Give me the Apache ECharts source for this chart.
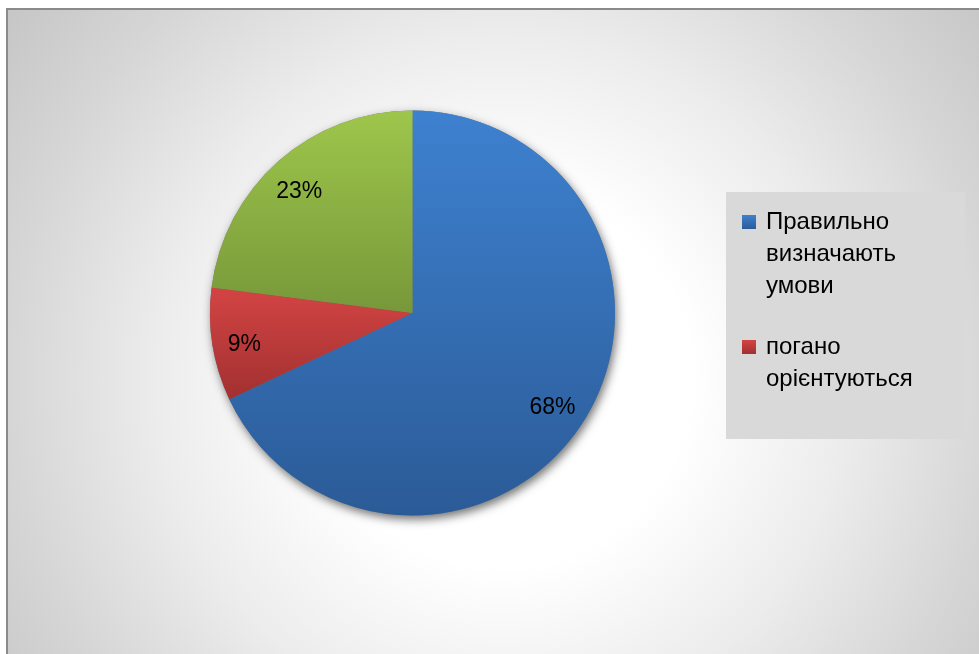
<!DOCTYPE html>
<html>
<head>
<meta charset="utf-8">
<script src="https://cdn.jsdelivr.net/npm/echarts@6/dist/echarts.min.js"></script>
<style>
  html, body { margin: 0; padding: 0; background: #ffffff; }
  #chart { width: 979px; height: 654px; }
</style>
</head>
<body>
<div id="chart"></div>
<script>
// Categories and their shares (percent)
const categories = ['Правильно визначають умови', 'погано орієнтуються', 'частково орієнтуються'];
const shares = [68, 9, 23];
// Only the first two entries fit in the legend box
const legendNames = ['Правильно визначають умови', 'погано орієнтуються'];

// Vertical gradient fills per slice (top colour, bottom colour)
const sliceColors = [
  ['#3e81d0', '#2b5b97'],
  ['#d34444', '#a23030'],
  ['#9ec64b', '#77983a']
];

function vGrad(pair) {
  return {
    type: 'linear', x: 0, y: 0, x2: 0, y2: 1,
    colorStops: [{ offset: 0, color: pair[0] }, { offset: 1, color: pair[1] }]
  };
}

const pieData = categories.map((name, i) => ({
  name: name,
  value: shares[i],
  itemStyle: { color: vGrad(sliceColors[i]) }
}));

const FONT = 'Liberation Sans';
const CENTER = [412.5, 313];
const R = 202.5;

const chart = echarts.init(document.getElementById('chart'), null, { renderer: 'canvas' });

chart.setOption({
  animation: false,
  graphic: [
    {
      // chart area with radial shading and grey frame
      type: 'rect', z: -10, silent: true,
      shape: { x: 7, y: 9, width: 990, height: 740 },
      style: {
        fill: {
          type: 'radial', x: 0.5, y: 0.5, r: 0.85,
          colorStops: [
            { offset: 0, color: '#ffffff' },
            { offset: 0.3, color: '#ffffff' },
            { offset: 0.55, color: '#ececec' },
            { offset: 0.78, color: '#d6d6d6' },
            { offset: 1, color: '#c4c4c4' }
          ]
        },
        stroke: '#8a8a8a', lineWidth: 2
      }
    },
    {
      // legend panel
      type: 'rect', z: -5, silent: true,
      shape: { x: 726, y: 192, width: 239, height: 247 },
      style: { fill: '#d9d9d9' }
    }
  ],
  legend: {
    orient: 'vertical',
    left: 742,
    top: 142,
    padding: 0,
    itemGap: -3,
    itemWidth: 14,
    itemHeight: 14,
    icon: 'rect',
    selectedMode: false,
    data: legendNames,
    // one word per line; leading blank lines keep the marker beside the first line
    formatter: function (name) {
      const words = name.split(' ');
      return '\n'.repeat(words.length - 1) + words.join('\n');
    },
    textStyle: {
      fontFamily: FONT,
      fontSize: 24,
      lineHeight: 32,
      color: '#000000',
      padding: [0, 0, 0, 5]
    }
  },
  series: [
    {
      // visible slices
      name: 'main',
      type: 'pie',
      z: 3,
      center: CENTER,
      radius: R,
      startAngle: 90,
      clockwise: true,
      avoidLabelOverlap: false,
      label: { show: false },
      labelLine: { show: false },
      emphasis: { disabled: true },
      itemStyle: { borderWidth: 0 },
      data: pieData
    },
    {
      // drop shadow underneath the pie
      name: 'shadow',
      type: 'pie',
      z: 2,
      silent: true,
      center: CENTER,
      radius: R,
      startAngle: 90,
      clockwise: true,
      label: { show: false },
      labelLine: { show: false },
      emphasis: { disabled: true },
      itemStyle: {
        color: '#777777',
        shadowBlur: 10,
        shadowOffsetX: 2,
        shadowOffsetY: 4,
        shadowColor: 'rgba(0,0,0,0.55)'
      },
      data: categories.map((name, i) => ({ name: name, value: shares[i] }))
    },
    {
      // percentage labels placed near the rim
      name: 'labels',
      type: 'pie',
      z: 4,
      silent: true,
      center: CENTER,
      radius: [128, R],
      startAngle: 90,
      clockwise: true,
      avoidLabelOverlap: false,
      itemStyle: { color: 'rgba(0,0,0,0)' },
      emphasis: { disabled: true },
      labelLine: { show: false },
      label: {
        show: true,
        position: 'inside',
        formatter: '{c}%',
        offset: [-2, 5],
        fontFamily: FONT,
        fontSize: 23,
        color: '#000000'
      },
      data: categories.map((name, i) => ({ name: name, value: shares[i] }))
    }
  ]
});
</script>
</body>
</html>
